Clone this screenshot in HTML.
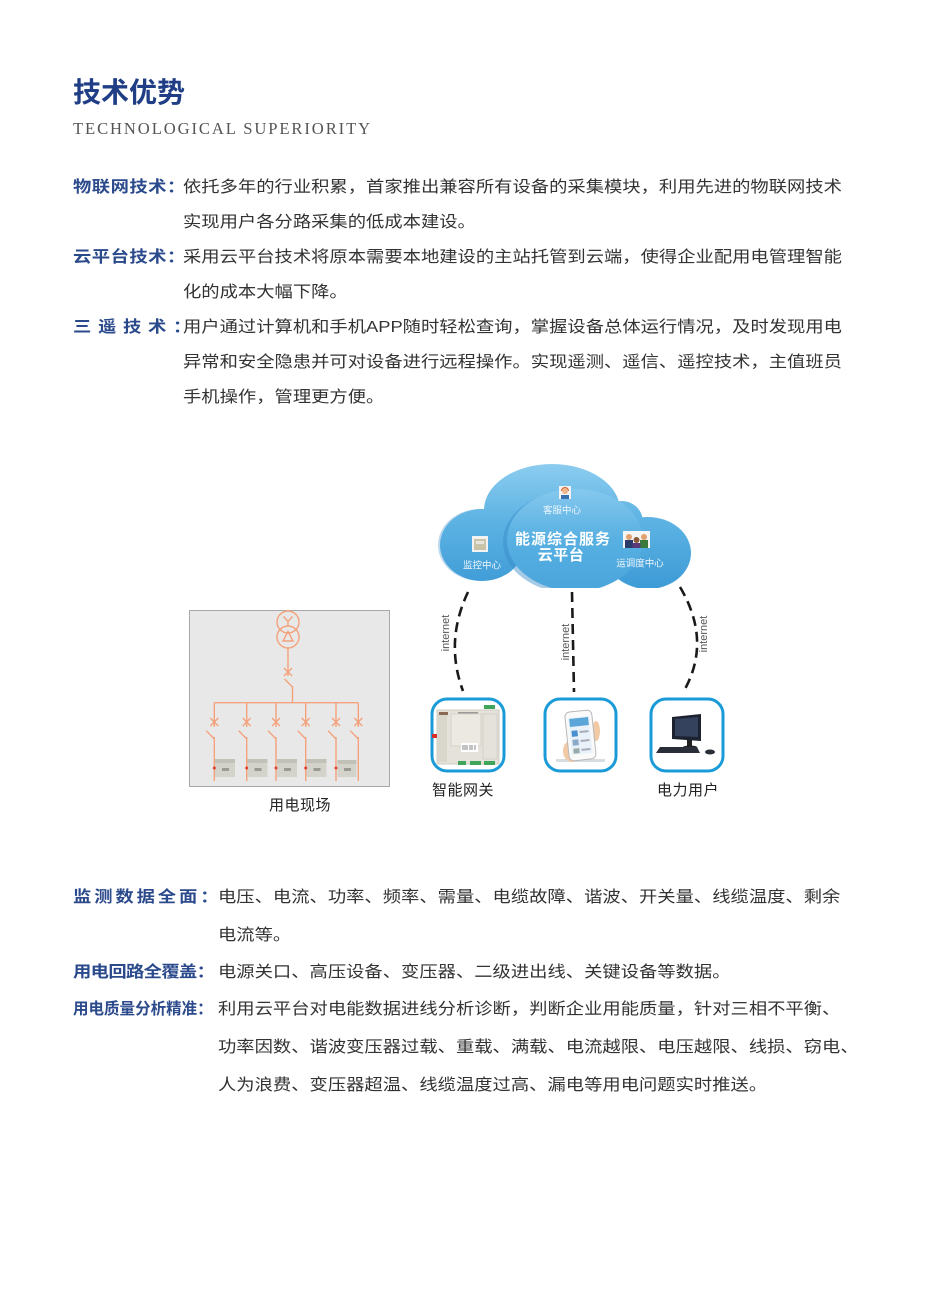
<!DOCTYPE html>
<html><head><meta charset="utf-8">
<style>
html,body{margin:0;padding:0;background:#fff;}
body{width:937px;height:1294px;position:relative;overflow:hidden;font-family:"Liberation Sans","Noto Sans CJK SC",sans-serif;}
.a{position:absolute;white-space:nowrap;line-height:20px;font-size:16px;transform-origin:0 0;transform:scaleX(1.144);}
.t{color:#333;letter-spacing:0px;}
.l{color:#2b4a8c;font-weight:bold;}
.c{position:absolute;white-space:nowrap;line-height:20px;font-size:15px;letter-spacing:0.5px;color:#222;}
</style></head><body>

<div style="position:absolute;left:73px;top:76.5px;font-size:28px;line-height:32px;font-weight:bold;color:#1f3e86;letter-spacing:0px;white-space:nowrap">技术优势</div>
<div style="position:absolute;left:73px;top:118.5px;font-family:'Liberation Serif',serif;font-size:16.6px;line-height:20px;color:#555;letter-spacing:1.9px;white-space:nowrap">TECHNOLOGICAL SUPERIORITY</div>

<!-- top section -->
<div class="a l" style="left:72.5px;top:177.5px;letter-spacing:0.43px">物联网技术：</div>
<div class="a t" style="left:183px;top:177.5px">依托多年的行业积累，首家推出兼容所有设备的采集模块，利用先进的物联网技术</div>
<div class="a t" style="left:183px;top:212.5px">实现用户各分路采集的低成本建设。</div>
<div class="a l" style="left:72.5px;top:247.5px;letter-spacing:0.43px">云平台技术：</div>
<div class="a t" style="left:183px;top:247.5px">采用云平台技术将原本需要本地建设的主站托管到云端，使得企业配用电管理智能</div>
<div class="a t" style="left:183px;top:282.5px">化的成本大幅下降。</div>
<div class="a l" style="left:72.5px;top:317.5px;letter-spacing:5.85px">三遥技术：</div>
<div class="a t" style="left:183px;top:317.5px">用户通过计算机和手机APP随时轻松查询，掌握设备总体运行情况，及时发现用电</div>
<div class="a t" style="left:183px;top:352.5px">异常和安全隐患并可对设备进行远程操作。实现遥测、遥信、遥控技术，主值班员</div>
<div class="a t" style="left:183px;top:387.5px">手机操作，管理更方便。</div>

<!-- bottom section -->
<div class="a l" style="left:72.5px;top:887.5px;letter-spacing:2.53px">监测数据全面：</div>
<div class="a t" style="left:218px;top:887.5px">电压、电流、功率、频率、需量、电缆故障、谐波、开关量、线缆温度、剩余</div>
<div class="a t" style="left:218px;top:925.5px">电流等。</div>
<div class="a l" style="left:72.5px;top:962.5px;letter-spacing:-0.56px">用电回路全覆盖：</div>
<div class="a t" style="left:218px;top:962.5px">电源关口、高压设备、变压器、二级进出线、关键设备等数据。</div>
<div class="a l" style="left:72.5px;top:999.5px;letter-spacing:0px;transform:scaleX(0.97)">用电质量分析精准：</div>
<div class="a t" style="left:218px;top:999.5px">利用云平台对电能数据进线分析诊断，判断企业用能质量，针对三相不平衡、</div>
<div class="a t" style="left:218px;top:1037.5px">功率因数、谐波变压器过载、重载、满载、电流越限、电压越限、线损、窃电、</div>
<div class="a t" style="left:218px;top:1075.5px">人为浪费、变压器超温、线缆温度过高、漏电等用电问题实时推送。</div>

<svg width="937" height="1294" style="position:absolute;left:0;top:0" xmlns="http://www.w3.org/2000/svg">
<defs>
<linearGradient id="cg" x1="0" y1="463" x2="0" y2="590" gradientUnits="userSpaceOnUse">
 <stop offset="0" stop-color="#8dcdf0"/>
 <stop offset="0.45" stop-color="#5db3e3"/>
 <stop offset="1" stop-color="#3d9ad6"/>
</linearGradient>
<linearGradient id="cg2" x1="0" y1="488" x2="0" y2="590" gradientUnits="userSpaceOnUse">
 <stop offset="0" stop-color="#86c9ee"/>
 <stop offset="0.5" stop-color="#58b0e2"/>
 <stop offset="1" stop-color="#4aa5dc"/>
</linearGradient>
<clipPath id="cc"><rect x="430" y="450" width="270" height="138"/></clipPath>
</defs>

<!-- cloud -->
<g clip-path="url(#cc)">
 <ellipse cx="552" cy="510" rx="68" ry="46" fill="url(#cg)"/>
 <circle cx="622" cy="522" r="21" fill="url(#cg)"/>
 <ellipse cx="648" cy="553" rx="43" ry="36" fill="url(#cg)"/>
 <ellipse cx="480" cy="545" rx="42" ry="36" fill="#3d8fcb" opacity="0.35"/>
 <ellipse cx="482" cy="545" rx="42" ry="36" fill="url(#cg)"/>
 <ellipse cx="571" cy="542" rx="68" ry="51" fill="#3a8bc8" opacity="0.45"/>
 <ellipse cx="575" cy="540" rx="68" ry="51" fill="url(#cg2)"/>
</g>
<!-- cloud icons -->
<rect x="559" y="486" width="12" height="13" fill="#f3f3f3"/>
<circle cx="565" cy="491" r="3" fill="#f0b48a"/>
<path d="M561.5,491 A3.5,3.5 0 0 1 568.5,491" stroke="#d0602a" stroke-width="1" fill="none"/>
<rect x="561" y="495" width="8" height="4" fill="#3a6fb0"/>
<rect x="472" y="536" width="16" height="16" fill="#f2f2f2"/>
<rect x="474" y="539" width="12" height="11" fill="#c9c3aa"/>
<rect x="476" y="541" width="8" height="3" fill="#e8e6dc"/>
<rect x="623" y="531" width="27" height="17" fill="#f5f5f5"/>
<circle cx="629" cy="537" r="3" fill="#e0a070"/><rect x="625" y="540" width="8" height="8" fill="#2a3a6a"/>
<circle cx="644" cy="537" r="3" fill="#e0a070"/><rect x="640" y="540" width="8" height="8" fill="#3a7a3a"/>
<circle cx="636.5" cy="540" r="3" fill="#8a5a3a"/><rect x="632.5" y="543" width="8" height="5" fill="#5a3a7a"/>
<g font-family="Liberation Sans, Noto Sans CJK SC, sans-serif" fill="#fff" text-anchor="middle">
 <text x="563" y="544" font-size="15" font-weight="bold" letter-spacing="1">能源综合服务</text>
 <text x="561" y="560" font-size="15" font-weight="bold" letter-spacing="0.5">云平台</text>
 <text x="562" y="513.6" font-size="9.5" fill="#eef6fc">客服中心</text>
 <text x="482" y="568.6" font-size="9.5" fill="#eef6fc">监控中心</text>
 <text x="640" y="566.6" font-size="9.5" fill="#eef6fc">运调度中心</text>
</g>

<!-- dashed connectors -->
<g stroke="#1a1a1a" stroke-width="2.6" fill="none" stroke-dasharray="10 6">
 <path d="M468,592 Q444.5,641.5 463,691"/>
 <path d="M572,592 L574,692"/>
 <path d="M680,587 Q711.5,640 685,689"/>
</g>
<g font-family="Liberation Sans, sans-serif" font-size="11" fill="#555" text-anchor="middle">
 <text transform="translate(449,633) rotate(-90)">internet</text>
 <text transform="translate(569,642) rotate(-90)">internet</text>
 <text transform="translate(707,634) rotate(-90)">internet</text>
</g>

<!-- boxes -->
<g stroke="#1a9bd8" stroke-width="3" fill="#fff">
 <rect x="432" y="699" width="72" height="72" rx="15"/>
 <rect x="545" y="699" width="71" height="72" rx="15"/>
 <rect x="651" y="699" width="72" height="72" rx="15"/>
</g>
<!-- gateway -->
<rect x="437" y="710" width="62" height="54" fill="#e4e2da" stroke="#cfcbc0"/>
<rect x="437" y="712" width="10" height="50" fill="#d9d6cc"/>
<rect x="451" y="714" width="30" height="32" fill="#ebe9e2" stroke="#d0ccc2" stroke-width="0.8"/>
<rect x="483" y="714" width="14" height="45" fill="none" stroke="#d0ccc2" stroke-width="0.8"/>
<rect x="439" y="712" width="9" height="3" fill="#8a6a55"/>
<rect x="458" y="712" width="20" height="1.5" fill="#999"/>
<rect x="461" y="743" width="17" height="9" fill="#fff"/>
<g stroke="#555" stroke-width="0.7"><path d="M463,745V750M465,745V750M467,745V750M470,745V750M472,745V750M475,745V750"/></g>
<rect x="432" y="734" width="5" height="4" fill="#d8302a"/>
<rect x="458" y="761" width="8" height="4" fill="#3ea55a"/>
<rect x="470" y="761" width="11" height="4" fill="#3ea55a"/>
<rect x="484" y="761" width="11" height="4" fill="#3ea55a"/>
<rect x="484" y="705" width="11" height="4" fill="#3ea55a"/>
<!-- phone -->
<rect x="556" y="759" width="49" height="3" fill="#d8dde2"/>
<ellipse cx="572" cy="751" rx="9" ry="11" fill="#f1c9a5"/>
<ellipse cx="596" cy="731" rx="4" ry="10" fill="#f1c9a5"/>
<g transform="rotate(-6 580 736)">
 <rect x="567" y="711" width="27" height="49" rx="5" fill="#fafafa" stroke="#b8b8b8"/>
 <rect x="570" y="717" width="21" height="37" fill="#e9f2f9"/>
 <rect x="571" y="718" width="19" height="8" fill="#5aa6d8"/>
 <rect x="572" y="730" width="6" height="6" fill="#4a8fcf"/>
 <rect x="572" y="739" width="6" height="6" fill="#8aaac8"/>
 <rect x="572" y="748" width="6" height="5" fill="#9aa"/>
 <rect x="580" y="731" width="9" height="2" fill="#aab"/>
 <rect x="580" y="740" width="9" height="2" fill="#aab"/>
 <rect x="580" y="749" width="9" height="2" fill="#aab"/>
</g>
<!-- computer -->
<polygon points="672,717 701,714 701,741 672,739" fill="#1c2230"/>
<polygon points="675,719 698,717 698,737 675,736" fill="#34425e"/>
<rect x="687" y="740" width="5" height="6" fill="#222"/>
<ellipse cx="690" cy="747" rx="7" ry="1.5" fill="#222"/>
<polygon points="660,747 697,747 700,753 656,753" fill="#2a2e38"/>
<ellipse cx="710" cy="752" rx="5" ry="2.5" fill="#2a2e38"/>

<!-- left panel -->
<rect x="189.5" y="610.5" width="200" height="176" fill="#e8e8e8" stroke="#a8a8a8"/>
<g stroke="#f3a27c" stroke-width="1.4" fill="none">
 <circle cx="288" cy="622" r="11"/>
 <circle cx="288" cy="637" r="11"/>
 <path d="M283.5,616.5 L288,621.5 L292.5,616.5 M288,621.5 V626"/>
 <path d="M288,631.5 L283,641 L293,641 Z"/>
 <path d="M288,648 V676 M284,668 L292,676 M292,668 L284,676"/>
 <path d="M284.5,679 L292.5,687 M292.5,686 V702.7"/>
 <path d="M214.3,702.7 H358.3"/>
 <path d="M214.3,702.7V727 M210.3,718L218.3,726 M218.3,718L210.3,726 M206.3,730.7L214.3,739 M214.3,737V781"/>
 <path d="M246.7,702.7V727 M242.7,718L250.7,726 M250.7,718L242.7,726 M238.7,730.7L246.7,739 M246.7,737V781"/>
 <path d="M276,702.7V727 M272,718L280,726 M280,718L272,726 M268,730.7L276,739 M276,737V781"/>
 <path d="M305.7,702.7V727 M301.7,718L309.7,726 M309.7,718L301.7,726 M297.7,730.7L305.7,739 M305.7,737V781"/>
 <path d="M336,702.7V727 M332,718L340,726 M340,718L332,726 M328,730.7L336,739 M336,737V781"/>
 <path d="M358.3,702.7V727 M354.3,718L362.3,726 M362.3,718L354.3,726 M350.3,730.7L358.3,739 M358.3,737V781"/>
</g>
<g>
 <rect x="215" y="759" width="20" height="18" fill="#d4d3cb"/><rect x="215" y="759" width="20" height="4" fill="#c2c1b8"/><rect x="222" y="768" width="7" height="3" fill="#9a9a90"/>
 <rect x="247.5" y="759" width="20" height="18" fill="#d4d3cb"/><rect x="247.5" y="759" width="20" height="4" fill="#c2c1b8"/><rect x="254.5" y="768" width="7" height="3" fill="#9a9a90"/>
 <rect x="277" y="759" width="20" height="18" fill="#d4d3cb"/><rect x="277" y="759" width="20" height="4" fill="#c2c1b8"/><rect x="284" y="768" width="7" height="3" fill="#9a9a90"/>
 <rect x="306.5" y="759" width="20" height="18" fill="#d4d3cb"/><rect x="306.5" y="759" width="20" height="4" fill="#c2c1b8"/><rect x="313.5" y="768" width="7" height="3" fill="#9a9a90"/>
 <rect x="337.5" y="760" width="19" height="17" fill="#d4d3cb"/><rect x="337.5" y="760" width="19" height="4" fill="#c2c1b8"/><rect x="344" y="768" width="7" height="3" fill="#9a9a90"/>
 <g fill="#e0402a"><circle cx="214.3" cy="768" r="1.5"/><circle cx="246.7" cy="768" r="1.5"/><circle cx="276" cy="768" r="1.5"/><circle cx="305.7" cy="768" r="1.5"/><circle cx="336" cy="768" r="1.5"/></g>
</g>
</svg>

<div class="c" style="left:269px;top:795.5px">用电现场</div>
<div class="c" style="left:432px;top:780.5px">智能网关</div>
<div class="c" style="left:657px;top:780.5px">电力用户</div>

</body></html>
